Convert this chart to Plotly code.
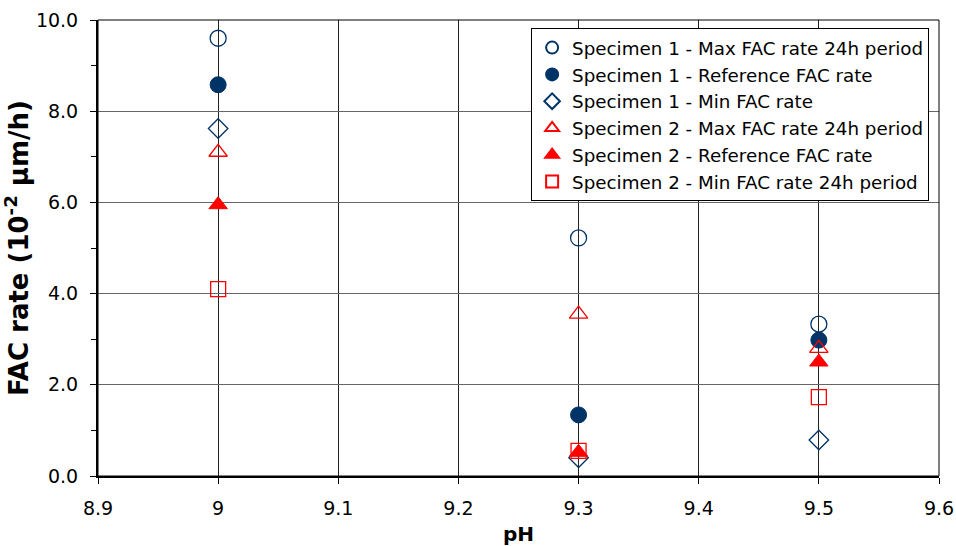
import plotly.graph_objects as go

ph = [9.0, 9.3, 9.5]
s1_max = [9.6, 5.22, 3.33]
s1_ref = [8.58, 1.34, 2.98]
s1_min = [7.62, 0.40, 0.79]
s2_max = [7.1, 3.55, 2.8]
s2_ref = [5.95, 0.52, 2.5]
s2_min = [4.1, 0.55, 1.73]

names = [
    "Specimen 1 - Max FAC rate 24h period",
    "Specimen 1 - Reference FAC rate",
    "Specimen 1 - Min FAC rate",
    "Specimen 2 - Max FAC rate 24h period",
    "Specimen 2 - Reference FAC rate",
    "Specimen 2 - Min FAC rate 24h period",
]

x_tickvals = [8.9, 9.0, 9.1, 9.2, 9.3, 9.4, 9.5, 9.6]
x_ticktext = ["8.9", "9", "9.1", "9.2", "9.3", "9.4", "9.5", "9.6"]

NAVY = "#003366"
RED = "#FF0000"
FONT = "DejaVu Sans, Liberation Sans, Arial, sans-serif"

styles = [
    (s1_max, dict(symbol="circle-open", size=16, color=NAVY, line=dict(width=1.3, color=NAVY))),
    (s1_ref, dict(symbol="circle", size=16, color=NAVY, line=dict(width=1, color=NAVY))),
    (s1_min, dict(symbol="diamond-open", size=15, color=NAVY, line=dict(width=1.3, color=NAVY))),
    (s2_max, dict(symbol="triangle-up-open", size=16, color=RED, line=dict(width=1.3, color=RED))),
    (s2_ref, dict(symbol="triangle-up", size=16, color=RED, line=dict(width=1, color=RED))),
    (s2_min, dict(symbol="square-open", size=15, color=RED, line=dict(width=1.3, color=RED))),
]

fig = go.Figure()
for (vals, mk), nm in zip(styles, names):
    fig.add_trace(go.Scatter(x=ph, y=vals, mode="markers", name=nm, marker=mk))

fig.update_layout(
    width=956, height=546,
    margin=dict(l=98, r=17, t=20, b=70),
    paper_bgcolor="white", plot_bgcolor="white",
    font=dict(family=FONT, size=19, color="black"),
    showlegend=True,
    legend=dict(
        x=0.515, y=0.982, xanchor="left", yanchor="top",
        bgcolor="white", bordercolor="black", borderwidth=1,
        font=dict(size=18.3), itemsizing="constant",
        tracegroupgap=0, itemwidth=30,
    ),
    xaxis=dict(
        range=[8.9, 9.6], tickvals=x_tickvals, ticktext=x_ticktext,
        showgrid=True, gridcolor="#222222", gridwidth=1,
        showline=True, linecolor="black", linewidth=2,
        ticks="outside", ticklen=6, tickcolor="black", ticklabelstandoff=8,
        zeroline=False, automargin=False,
        title=dict(text="<b>pH</b>", font=dict(size=20), standoff=14),
    ),
    yaxis=dict(
        range=[0, 10], dtick=2, tickformat=".1f",
        showgrid=True, gridcolor="#666666", gridwidth=1,
        showline=True, linecolor="black", linewidth=2,
        ticks="outside", ticklen=6, tickcolor="black", ticklabelstandoff=8,
        minor=dict(dtick=1, ticks="outside", ticklen=5, tickcolor="black", showgrid=False),
        zeroline=False, automargin=False,
        title=dict(text="<b>FAC rate (10<sup>-2</sup> μm/h)</b>", font=dict(size=26), standoff=8),
    ),
)

fig.add_shape(type="rect", xref="paper", yref="paper", x0=0, y0=0, x1=1, y1=1,
              line=dict(color="black", width=1), fillcolor="rgba(0,0,0,0)", layer="above")

fig.write_html("out.html")
